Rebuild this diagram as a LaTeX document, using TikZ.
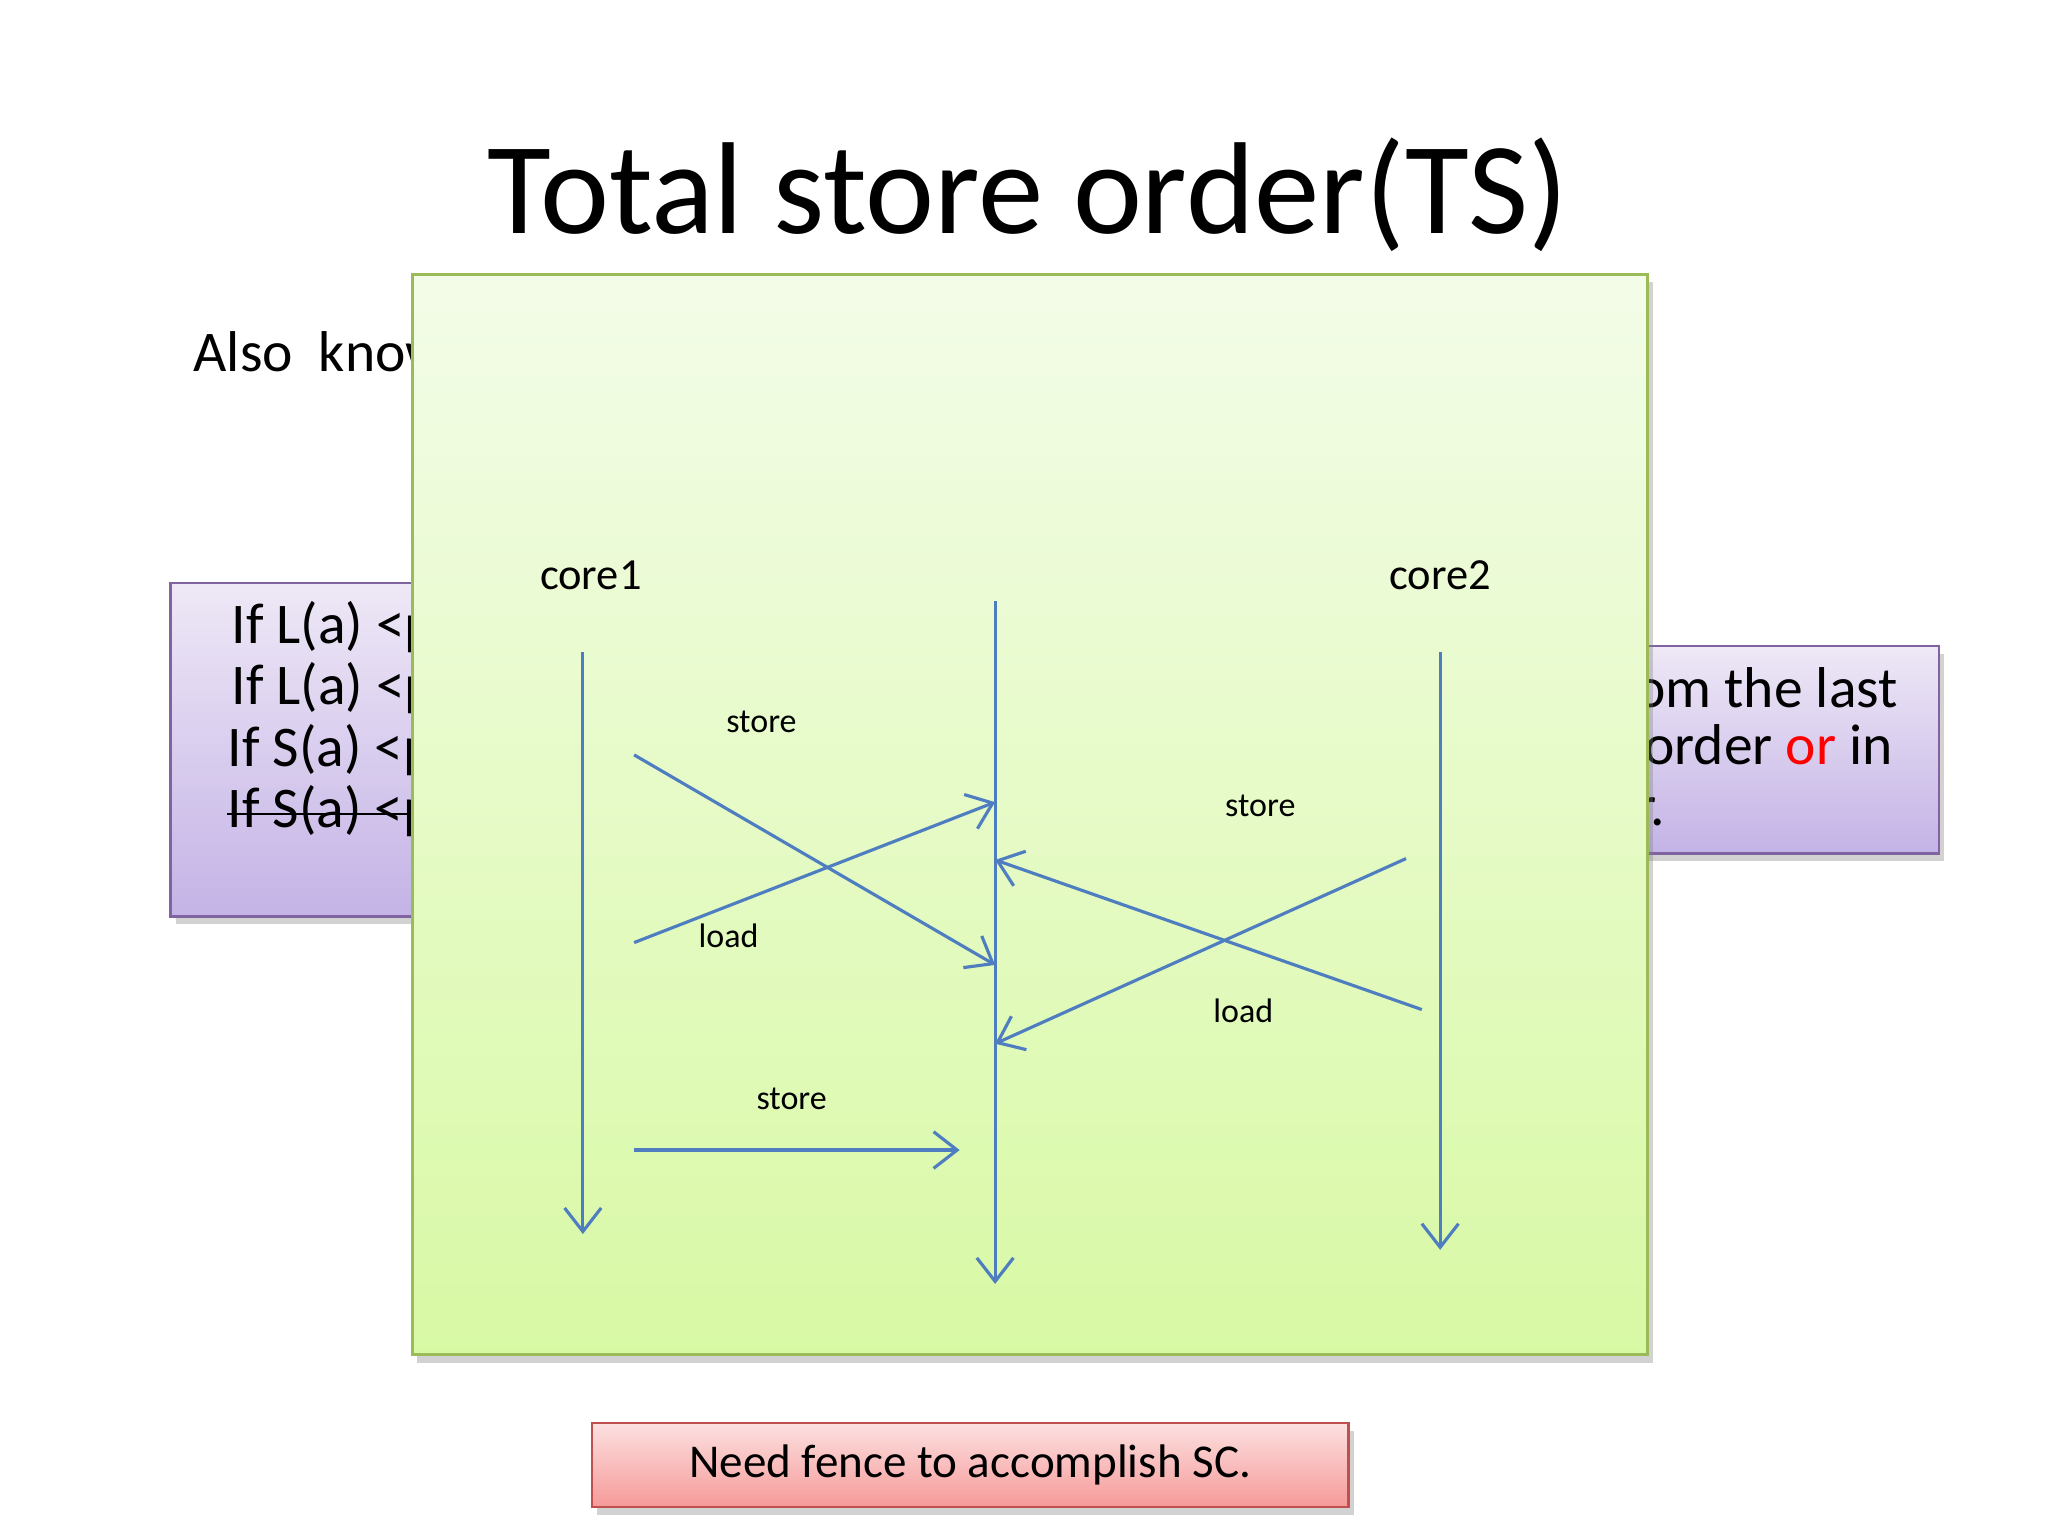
\documentclass[tikz,border=0pt]{standalone}
\usepackage{fontspec}
\setmainfont{Carlito}
\usetikzlibrary{arrows.meta,shadows}
\definecolor{arr}{HTML}{4F7EC0}
\definecolor{gtop}{HTML}{F3FCE8}
\definecolor{gbot}{HTML}{D8F9A4}
\definecolor{gbd}{HTML}{9BBB59}
\definecolor{ptop}{HTML}{EEE8F6}
\definecolor{pbot}{HTML}{C4B3E6}
\definecolor{pbd}{HTML}{8064A2}
\definecolor{rtop}{HTML}{FCE0E0}
\definecolor{rbot}{HTML}{F59A99}
\definecolor{rbd}{HTML}{C0504D}
\tikzset{
 flow/.style={draw=arr,line width=1.2pt,-{Straight Barb[length=9pt,width=14pt]}},
 core/.style={font=\fontsize{17}{20}\selectfont},
 lab/.style={font=\fontsize{13}{15}\selectfont},
 body/.style={font=\fontsize{22}{26}\selectfont,inner sep=0pt},
 pbox/.style={draw=pbd,line width=1pt,top color=ptop,bottom color=pbot,drop shadow={opacity=0.35,shadow xshift=2pt,shadow yshift=-3pt}},
}
\begin{document}
\begin{tikzpicture}[x=0.5bp,y=-0.5bp]
\useasboundingbox (0,0) rectangle (1560,1170);
\fill[white] (0,0) rectangle (1560,1170);
\node[font=\fontsize{50}{56}\selectfont] (title) at (783,148) {Total store order(TS)};
\node[body,anchor=west] (also) at (147,268) {Also\ \ know};
% purple boxes
\path[pbox] (130,444) rectangle (420,698);
\node[body,anchor=west] (l1) at (176,478) {If L(a) <p};
\node[body,anchor=west] (l2) at (176,524) {If L(a) <p};
\node[body,anchor=west] (l3) at (173,571) {If S(a) <p};
\node[body,anchor=west] (l4) at (173,618) {If S(a) <p};
\draw[line width=1.1pt] (l4.west) ++(0,2) -- ++(150,0);
\path[pbox] (1150,492) rectangle (1477,650);
\node[body,anchor=east] (r1) at (1446,524) {rom the last};
\node[body,anchor=east] (r2) at (1442,571) {y order \textcolor{red}{or} in};
\node[body,anchor=east] (r3) at (1269,618) {r.};
% green panel
\path[draw=gbd,line width=1.2pt,top color=gtop,bottom color=gbot,drop shadow={opacity=0.35,shadow xshift=2pt,shadow yshift=-3pt}] (314,209) rectangle (1255,1032);
\node[core] (c1) at (450,438) {core1};
\node[core] (c2) at (1097,438) {core2};
\coordinate (a1) at (444,497); \coordinate (a1e) at (444,940);
\coordinate (m) at (758,458); \coordinate (me) at (758,978);
\coordinate (b1) at (1097,497); \coordinate (b1e) at (1097,952);
\draw[flow] (a1) -- (a1e);
\draw[flow] (m) -- (me);
\draw[flow] (b1) -- (b1e);
\coordinate (s1a) at (483,575); \coordinate (s1b) at (758,735);
\coordinate (l1a) at (483,718); \coordinate (l1b) at (758,611);
\coordinate (s2a) at (1071,654); \coordinate (s2b) at (758,795);
\coordinate (l2a) at (1083,769); \coordinate (l2b) at (758,655);
\coordinate (s3a) at (483,876); \coordinate (s3b) at (731,876);
\draw[flow] (s1a) -- (s1b);
\draw[flow] (l1a) -- (l1b);
\draw[flow] (s2a) -- (s2b);
\draw[flow] (l2a) -- (l2b);
\draw[flow] (s3a) -- (s3b);
\node[lab] (t1) at (580,550) {store};
\node[lab] (t2) at (555,713) {load};
\node[lab] (t3) at (960,614) {store};
\node[lab] (t4) at (947,770) {load};
\node[lab] (t5) at (603,837) {store};
% red box
\path[draw=rbd,line width=1pt,top color=rtop,bottom color=rbot,drop shadow={opacity=0.35,shadow xshift=2pt,shadow yshift=-3pt}] (451,1084) rectangle (1027,1148);
\node[font=\fontsize{18}{22}\selectfont] (need) at (739,1116) {Need fence to accomplish SC.};
\end{tikzpicture}
\end{document}
